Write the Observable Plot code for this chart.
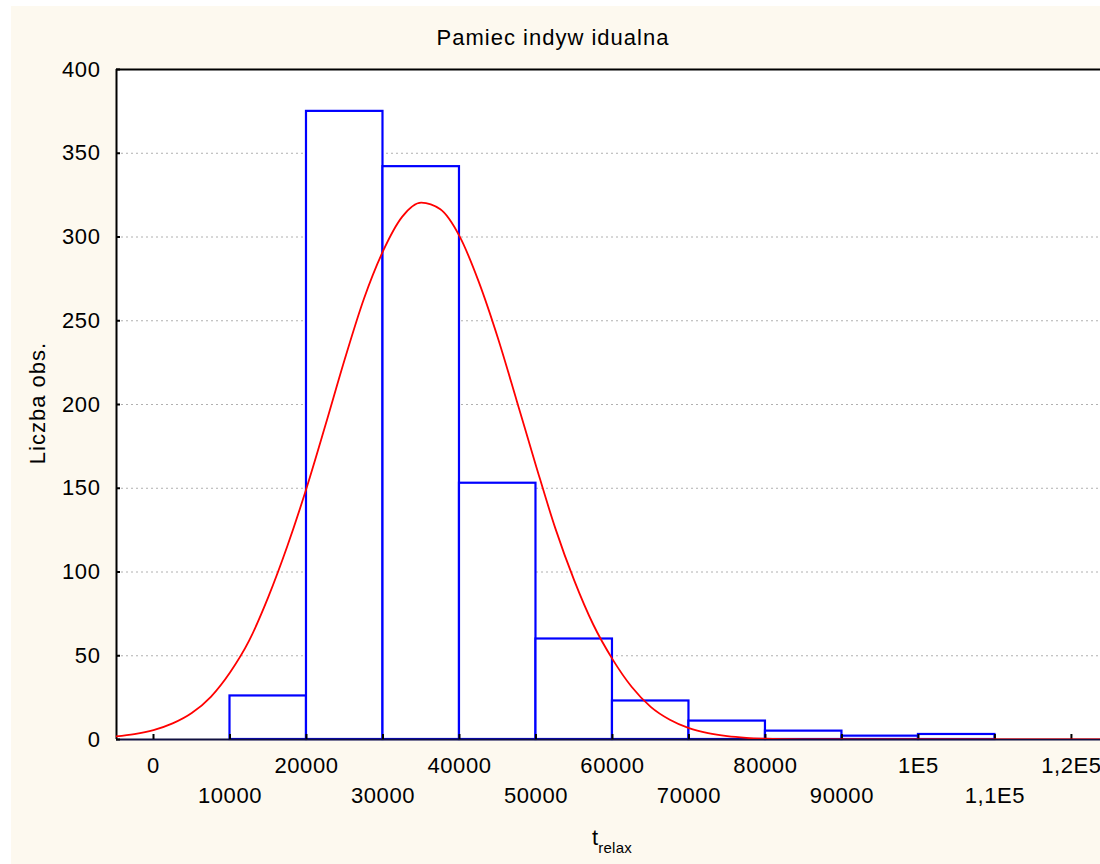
<!DOCTYPE html>
<html>
<head>
<meta charset="utf-8">
<script src="https://cdn.jsdelivr.net/npm/d3@7"></script>
<script src="https://cdn.jsdelivr.net/npm/@observablehq/plot@0.6"></script>
<style>
  body { margin: 0; background: #ffffff; font-family: "Liberation Sans", Arial, sans-serif; }
  #wrap { position: relative; width: 1100px; height: 864px; overflow: hidden; }
  #bg { position: absolute; left: 11px; top: 6px; right: 0; bottom: 0; background: #fdf9ef; }
  #chart { position: absolute; left: 0; top: 0; }
  #chart svg text { letter-spacing: 0.6px; }
  .t { position: absolute; color: #000; white-space: nowrap; font-family: "Liberation Sans", Arial, sans-serif; }
</style>
</head>
<body>
<div id="wrap">
  <div id="bg"></div>
  <div id="chart"></div>
  <div class="t" style="left:553px;top:38px;transform:translate(-50%,-50%);font-size:22px;letter-spacing:1px;">Pamiec indyw idualna</div>
  <div class="t" style="left:38px;top:403px;transform:translate(-50%,-50%) rotate(-90deg);font-size:22px;letter-spacing:1px;">Liczba obs.</div>
  <div class="t" style="left:592px;top:826px;font-size:22px;line-height:24px;"><span>t</span><span style="font-size:15px;position:relative;top:8px;letter-spacing:0.3px;">relax</span></div>
</div>
<script>
// Histogram bins (t_relax) and counts
const binStart = [0, 10000, 20000, 30000, 40000, 50000, 60000, 70000, 80000, 90000, 100000, 110000];
const binEnd   = [10000, 20000, 30000, 40000, 50000, 60000, 70000, 80000, 90000, 100000, 110000, 120000];
const counts   = [0, 26, 375, 342, 153, 60, 23, 11, 5, 2, 3, 0];

// Fitted curve
const curveX = [-5000, -2500, 0, 2500, 5000, 7500, 10000, 12500, 15000, 17500, 20000, 22500, 25000, 27500,
  30000, 32500, 35000, 37500, 40000, 42500, 45000, 47500, 50000, 52500, 55000, 57500, 60000, 62500, 65000,
  67500, 70000, 72500, 75000, 77500, 80000, 82500, 85000, 90000, 95000, 100000, 110000, 120000, 125000];
const curveY = [1.8, 3.2, 5.6, 9.6, 15.8, 25.5, 40, 59, 85, 115.5, 150, 188, 227, 263,
  291.5, 312, 320.5, 316.5, 300.5, 273.5, 240, 202, 163.5, 126.5, 95, 68.5, 48, 31.5, 19.5,
  11.8, 6.8, 3.8, 2.0, 1.0, 0.5, 0.25, 0.1, 0.02, 0, 0, 0, 0, 0];

// Axis ticks
const yTicks = [0, 50, 100, 150, 200, 250, 300, 350, 400];
const gridTicks = [50, 100, 150, 200, 250, 300, 350];
const xTicksRow1 = [0, 20000, 40000, 60000, 80000, 100000, 120000];
const xTicksRow2 = [10000, 30000, 50000, 70000, 90000, 110000];
const xTickLabels = {0: "0", 10000: "10000", 20000: "20000", 30000: "30000", 40000: "40000", 50000: "50000",
  60000: "60000", 70000: "70000", 80000: "80000", 90000: "90000", 100000: "1E5", 110000: "1,1E5", 120000: "1,2E5"};
const xDomain = [-4837, 123800];
const yDomain = [0, 400];

const bars = binStart.map((s, i) => ({x1: s, x2: binEnd[i], count: counts[i]}));
const curve = curveX.map((x, i) => ({x, y: curveY[i]}));
const allXTicks = xTicksRow1.concat(xTicksRow2);

const chart = Plot.plot({
  width: 1100,
  height: 864,
  marginLeft: 116,
  marginRight: 0,
  marginTop: 69,
  marginBottom: 125,
  x: {domain: xDomain},
  y: {domain: yDomain},
  style: {background: "transparent", fontFamily: "'Liberation Sans', Arial, sans-serif", fontSize: "22px", color: "#000"},
  marks: [
    Plot.frame({fill: "white", stroke: null}),
    Plot.gridY(gridTicks, {stroke: "#b0b0b0", strokeOpacity: 1, strokeDasharray: "2,3", strokeWidth: 1}),
    Plot.rect(bars, {x1: "x1", x2: "x2", y1: 0, y2: "count", fill: "white", stroke: "#0000ff", strokeWidth: 2.2}),
    Plot.ruleY([yDomain[1]], {stroke: "#000", strokeWidth: 2}),
    Plot.ruleX([xDomain[0]], {stroke: "#000", strokeWidth: 2}),
    Plot.ruleY([yDomain[0]], {stroke: "#101040", strokeWidth: 2}),
    Plot.axisY(yTicks, {anchor: "left", tickSize: -4, tickPadding: 20, tickFormat: d => String(d), strokeWidth: 2}),
    Plot.axisX(allXTicks, {anchor: "bottom", tickSize: -5, tickFormat: () => "", strokeWidth: 2}),
    Plot.axisX(xTicksRow1, {anchor: "bottom", tickSize: 0, tickPadding: 18, tickFormat: d => xTickLabels[d]}),
    Plot.axisX(xTicksRow2, {anchor: "bottom", tickSize: 0, tickPadding: 48, tickFormat: d => xTickLabels[d]}),
    Plot.line(curve, {x: "x", y: "y", stroke: "#ff0000", strokeWidth: 1.8, curve: "monotone-x", clip: true})
  ]
});
document.getElementById("chart").appendChild(chart);
</script>
</body>
</html>
